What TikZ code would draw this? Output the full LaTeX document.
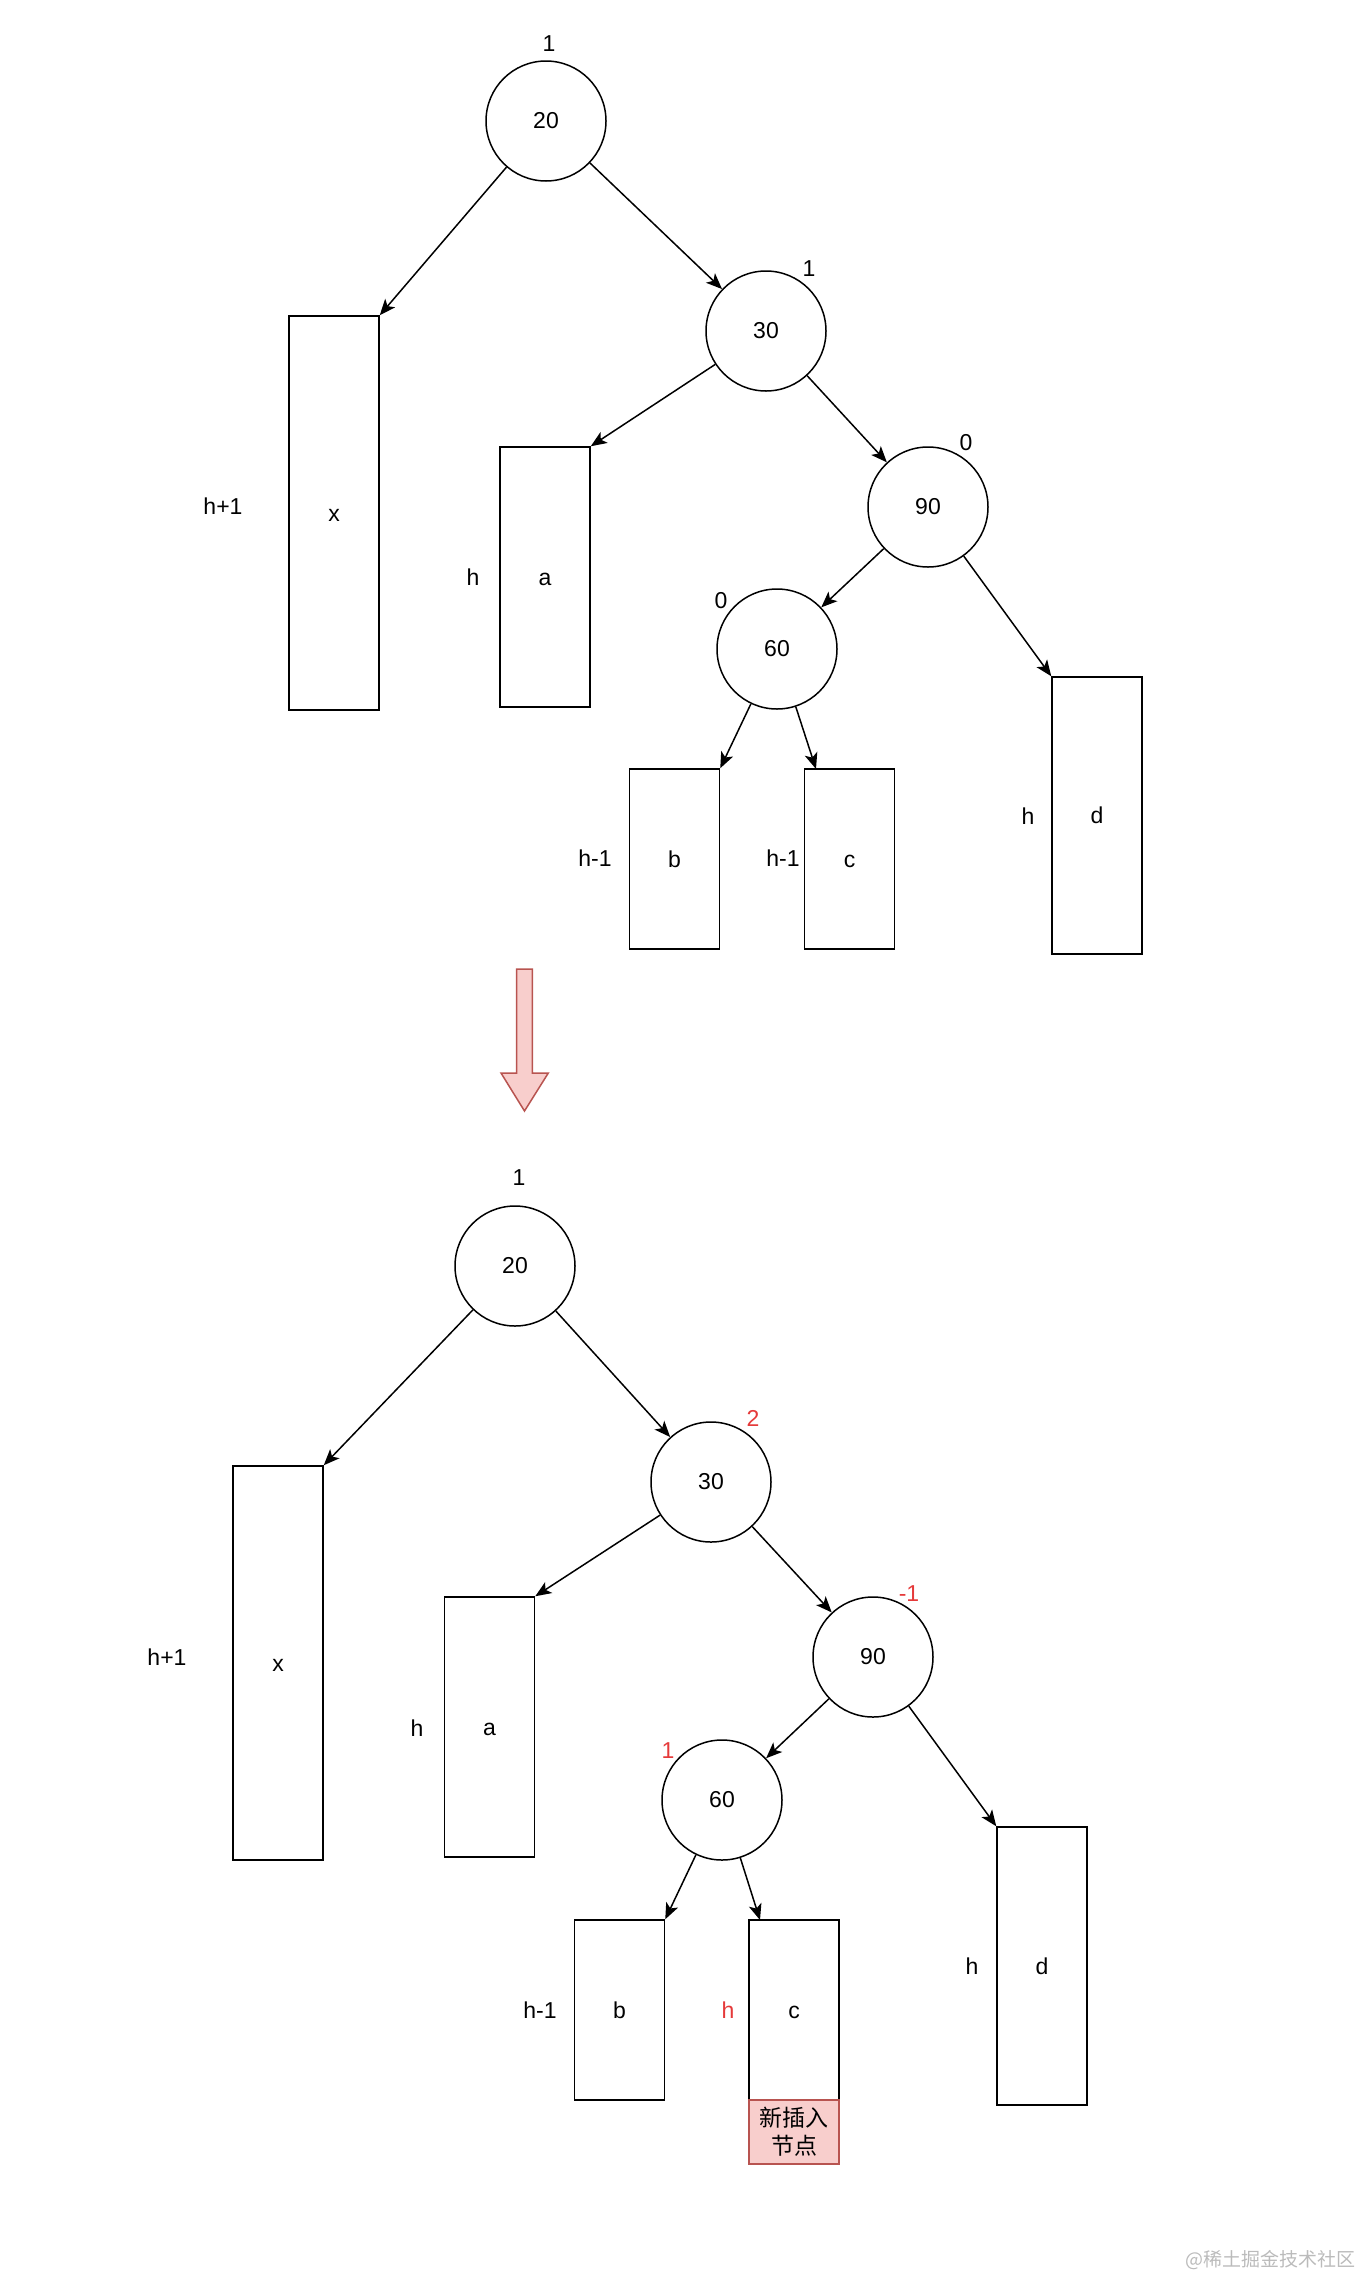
\documentclass[tikz,border=0pt]{standalone}
\usepackage{fontspec}
\setmainfont{Liberation Sans}
\newfontfamily\cjk{Noto Sans CJK SC}
\usetikzlibrary{arrows.meta}
\definecolor{redfill}{HTML}{F8CECC}
\definecolor{redline}{HTML}{B85450}
\definecolor{balred}{HTML}{E53A3A}
\definecolor{wmgray}{HTML}{BBBBBB}
\begin{document}
\begin{tikzpicture}[x=1pt,y=-1pt,
  font=\fontsize{23}{28}\selectfont,
  tnode/.style={circle,draw,line width=1.5pt,minimum size=120pt,inner sep=0pt},
  subtree/.style={rectangle,draw,line width=1.5pt,minimum width=90pt,inner sep=0pt,text height=16.5pt,text depth=0pt},
  lbl/.style={inner sep=0pt,text height=16.5pt,text depth=0pt},
  redlbl/.style={lbl,text=balred},
  edge/.style={line width=1.5pt,-{Stealth[length=16pt,width=13pt,inset=4pt]}}]
\useasboundingbox (0,0) rectangle (1363,2273);

% ---------- top tree ----------
\node[tnode] (t20) at (546,121) {20};
\node[tnode] (t30) at (766,331) {30};
\node[tnode] (t90) at (928,507) {90};
\node[tnode] (t60) at (777,649) {60};
\node[subtree,minimum height=394pt] (tx) at (334,513) {x};
\node[subtree,minimum height=260pt] (ta) at (545,577) {a};
\node[subtree,minimum height=180pt] (tb) at (674.5,859) {b};
\node[subtree,minimum height=180pt] (tc) at (849.5,859) {c};
\node[subtree,minimum height=277pt] (td) at (1097,815.5) {d};
\coordinate (tcin) at (816,769);

\node[lbl] (tl20) at (549,43) {1};
\node[lbl] (tl30) at (809,268) {1};
\node[lbl] (tl90) at (966,442) {0};
\node[lbl] (tl60) at (721,600) {0};
\node[lbl] (tlx) at (223,506) {h+1};
\node[lbl] (tla) at (473,577) {h};
\node[lbl] (tlb) at (595,858) {h-1};
\node[lbl] (tlc) at (783,858) {h-1};
\node[lbl] (tld) at (1028,816) {h};

\draw[edge] (t20) -- (tx.north east);
\draw[edge] (t20) -- (t30);
\draw[edge] (t30) -- (ta.north east);
\draw[edge] (t30) -- (t90);
\draw[edge] (t90) -- (t60);
\draw[edge] (t90) -- (td.north west);
\draw[edge] (t60) -- (tb.north east);
\draw[edge] (t60) -- (tcin);

% ---------- big arrow ----------
\draw[fill=redfill,draw=redline,line width=1.5pt,line join=miter]
  (516.7,969) -- (532.3,969) -- (532.3,1073) -- (548.3,1073) -- (524.5,1111)
  -- (501,1073) -- (516.7,1073) -- cycle;

% ---------- bottom tree ----------
\node[tnode] (b20) at (515,1266) {20};
\node[tnode] (b30) at (711,1482) {30};
\node[tnode] (b90) at (873,1657) {90};
\node[tnode] (b60) at (722,1800) {60};
\node[subtree,minimum height=394pt] (bx) at (278,1663) {x};
\node[subtree,minimum height=260pt] (ba) at (489.5,1727) {a};
\node[subtree,minimum height=180pt] (bb) at (619.5,2010) {b};
\node[subtree,minimum height=180pt] (bc) at (794,2010) {c};
\node[rectangle,draw=redline,fill=redfill,line width=1.5pt,minimum width=90pt,minimum height=64pt,
      inner sep=0pt,align=center,font=\cjk\fontsize{23}{28}\selectfont] (bnew) at (794,2132) {新插入\\节点};
\node[subtree,minimum height=278pt] (bd) at (1042,1966) {d};
\coordinate (bcin) at (760,1920);

\node[lbl] (bl20) at (519,1177) {1};
\node[redlbl] (bl30) at (753,1418) {2};
\node[redlbl] (bl90) at (909,1593) {-1};
\node[redlbl] (bl60) at (668,1750) {1};
\node[lbl] (blx) at (167,1657) {h+1};
\node[lbl] (bla) at (417,1728) {h};
\node[lbl] (blb) at (540,2010) {h-1};
\node[redlbl] (blc) at (728,2010) {h};
\node[lbl] (bld) at (972,1966) {h};

\draw[edge] (b20) -- (bx.north east);
\draw[edge] (b20) -- (b30);
\draw[edge] (b30) -- (ba.north east);
\draw[edge] (b30) -- (b90);
\draw[edge] (b90) -- (b60);
\draw[edge] (b90) -- (bd.north west);
\draw[edge] (b60) -- (bb.north east);
\draw[edge] (b60) -- (bcin);

% ---------- watermark ----------
\node[inner sep=0pt,anchor=east,text=wmgray,font=\cjk\fontsize{19}{22}\selectfont] (wm) at (1356,2260) {@稀土掘金技术社区};
\end{tikzpicture}
\end{document}
